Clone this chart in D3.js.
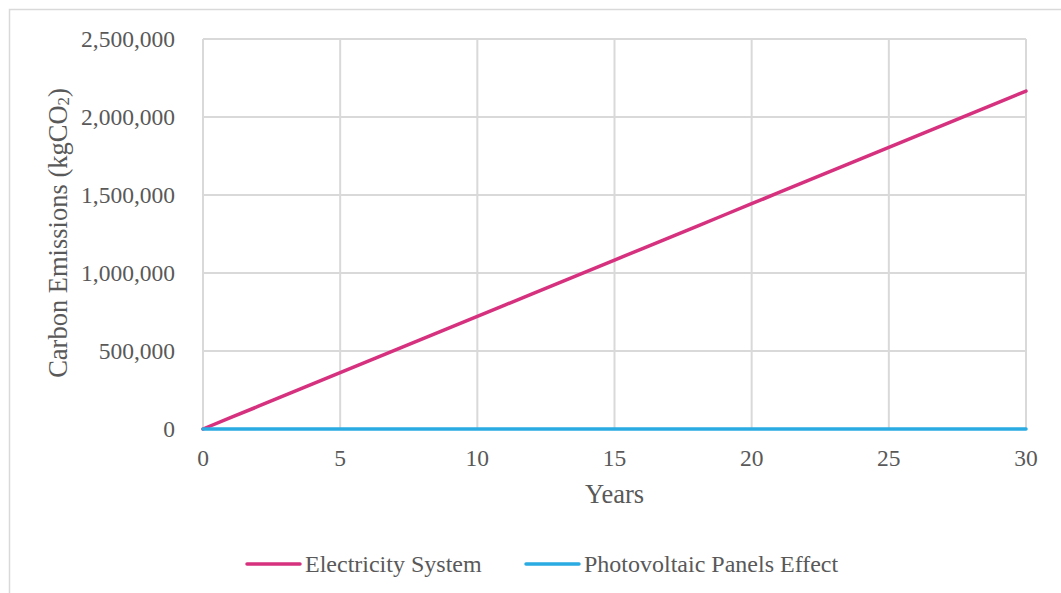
<!DOCTYPE html>
<html><head><meta charset="utf-8">
<script src="https://cdn.jsdelivr.net/npm/d3@7"></script>
</head><body style="margin:0;overflow:hidden;background:#fff">
<svg id="c" width="1061" height="593"></svg>
<script>
const years = [0,1,2,3,4,5,6,7,8,9,10,11,12,13,14,15,16,17,18,19,20,21,22,23,24,25,26,27,28,29,30];
const electricitySystem = [0,72200,144400,216600,288800,361000,433200,505400,577600,649800,722000,794200,866400,938600,1010800,1083000,1155200,1227400,1299600,1371800,1444000,1516200,1588400,1660600,1732800,1805000,1877200,1949400,2021600,2093800,2166000];
const photovoltaicEffect = [0,0,0,0,0,0,0,0,0,0,0,0,0,0,0,0,0,0,0,0,0,0,0,0,0,0,0,0,0,0,0];
const seriesNames = ["Electricity System","Photovoltaic Panels Effect"];
const seriesColors = ["#D6317F","#2AABE2"];
const xTicks = [0,5,10,15,20,25,30];
const yTicks = [0,500000,1000000,1500000,2000000,2500000];
const FONT = "Liberation Serif";
const TXT = "#595959";

const svg = d3.select("#c");
svg.append("rect").attr("x",9.5).attr("y",9.5).attr("width",1100).attr("height",700)
  .attr("fill","none").attr("stroke","#D9D9D9").attr("stroke-width",1.5);

const x = d3.scaleLinear().domain([0,30]).range([203,1026]);
const y = d3.scaleLinear().domain([0,2500000]).range([429,39]);

svg.append("g").selectAll("line").data(yTicks).join("line")
  .attr("x1",x(0)).attr("x2",x(30)).attr("y1",d=>y(d)).attr("y2",d=>y(d))
  .attr("stroke","#D9D9D9").attr("stroke-width",2);
svg.append("g").selectAll("line").data(xTicks).join("line")
  .attr("y1",y(0)).attr("y2",y(2500000)).attr("x1",d=>x(d)).attr("x2",d=>x(d))
  .attr("stroke","#D9D9D9").attr("stroke-width",2);

// y tick labels
svg.append("g").selectAll("text").data(yTicks).join("text")
  .attr("x",x(0)-28).attr("y",d=>y(d)+8).attr("text-anchor","end")
  .attr("font-family",FONT).attr("font-size",23.5).attr("fill",TXT)
  .text(d=>d3.format(",")(d));
// x tick labels
svg.append("g").selectAll("text").data(xTicks).join("text")
  .attr("x",d=>x(d)).attr("y",y(0)+37).attr("text-anchor","middle")
  .attr("font-family",FONT).attr("font-size",23.5).attr("fill",TXT)
  .text(d=>d);

const line = d3.line().x((d,i)=>x(years[i])).y(d=>y(d));
svg.append("path").datum(electricitySystem).attr("d",line).attr("fill","none")
  .attr("stroke",seriesColors[0]).attr("stroke-width",3.5).attr("stroke-linecap","round");
svg.append("path").datum(photovoltaicEffect).attr("d",line).attr("fill","none")
  .attr("stroke",seriesColors[1]).attr("stroke-width",3.5).attr("stroke-linecap","round");

const yt = svg.append("text").attr("transform",`translate(${67},${233}) rotate(-90)`)
  .attr("text-anchor","middle").attr("font-size",26.5).attr("font-family",FONT).attr("fill",TXT);
yt.append("tspan").text("Carbon Emissions (kgCO");
yt.append("tspan").text("2").attr("font-size",17).attr("dy","2");
yt.append("tspan").text(")").attr("dy","-2");

svg.append("text").attr("x",614.5).attr("y",503).attr("text-anchor","middle")
  .attr("font-size",26.5).attr("font-family",FONT).attr("fill",TXT).text("Years");

const legendX = [247,526];
seriesNames.forEach((n,i)=>{
  svg.append("line").attr("x1",legendX[i]).attr("x2",legendX[i]+53).attr("y1",564).attr("y2",564)
    .attr("stroke",seriesColors[i]).attr("stroke-width",3.5).attr("stroke-linecap","round");
  svg.append("text").attr("x",legendX[i]+58).attr("y",572).attr("font-size",24)
    .attr("font-family",FONT).attr("fill",TXT).text(n);
});
</script>
</body></html>
